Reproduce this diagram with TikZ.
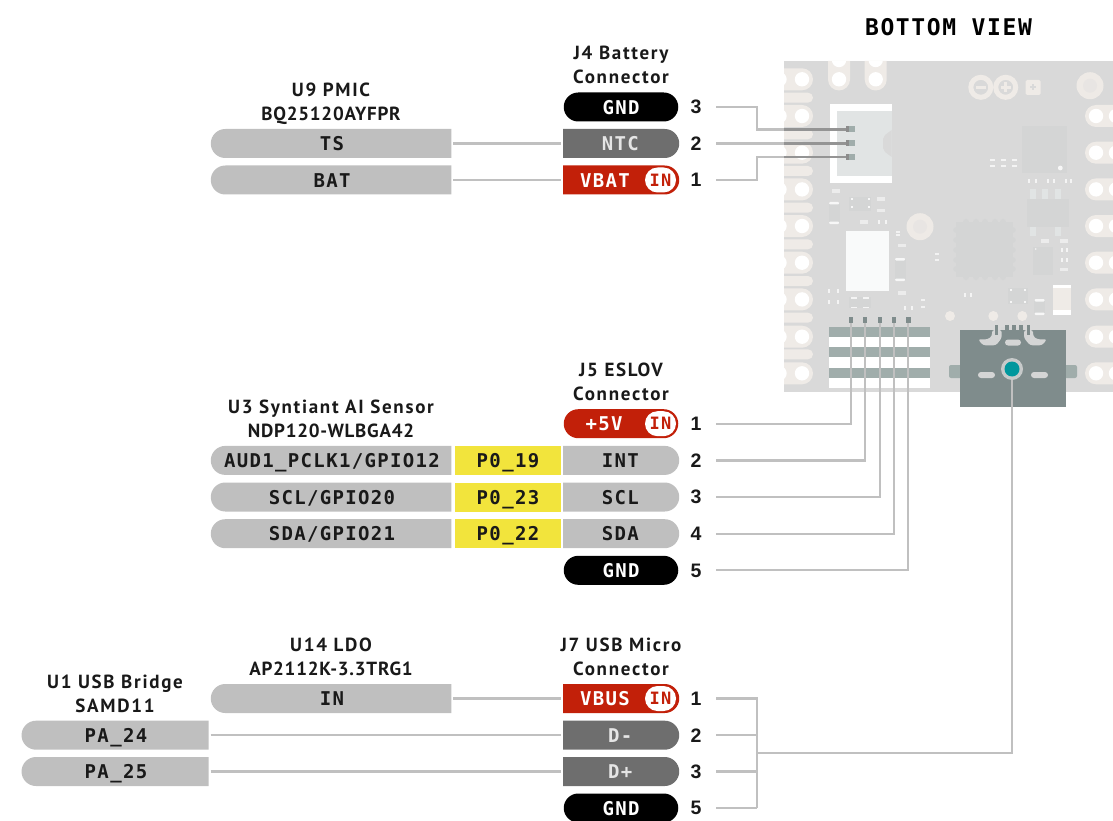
\documentclass[tikz,border=0pt]{standalone}
\usepackage{fontspec}
\usetikzlibrary{shapes.misc}
\newfontfamily\lblfont[LetterSpace=7]{DejaVu Sans Mono}
\newfontfamily\headfont[LetterSpace=9]{PT Sans}
\newfontfamily\headcaps[LetterSpace=4]{PT Sans}
\newfontfamily\numfont{Liberation Sans}
\definecolor{boardc}{HTML}{D9D9D9}
\definecolor{padc}{HTML}{EFEBE7}
\definecolor{compc}{HTML}{D4D5D5}
\definecolor{tintc}{HTML}{E1E4E4}
\definecolor{greenc}{HTML}{A0ADAB}
\definecolor{usbc}{HTML}{7F8C8C}
\definecolor{redc}{HTML}{C22009}
\definecolor{pingray}{HTML}{6E6E6E}
\definecolor{pillc}{HTML}{BFBFBF}
\definecolor{yelc}{HTML}{F2E43C}
\definecolor{linec}{HTML}{C0C0C0}
\definecolor{tealc}{HTML}{00979D}
\tikzset{
  lbl/.style={font=\lblfont\fontsize{19}{20}\bfseries\selectfont,inner sep=0pt,outer sep=0pt,text height=14.5pt,text depth=0pt,text=black!90},
  pinshape/.style={rounded rectangle,minimum width=114.5pt,minimum height=29pt,inner sep=0pt,outer sep=0pt,lbl},
  gndpin/.style={pinshape,fill=black,text=white},
  flatleft/.style={rounded rectangle west arc=none,minimum width=116pt,xshift=-0.75pt},
  graypin/.style={pinshape,flatleft,fill=pingray,text=white!90!black},
  redpin/.style={pinshape,flatleft,fill=redc},
  redround/.style={pinshape,fill=redc},
  lightpin/.style={pinshape,rounded rectangle east arc=none,fill=pillc},
  lightpinr/.style={pinshape,flatleft,fill=pillc},
  chipwide/.style={lightpin,minimum width=240.5pt,xshift=0.3pt},
  chipmid/.style={lightpin,minimum width=187pt,xshift=0.5pt},
  gpio/.style={rectangle,fill=yelc,minimum width=106.5pt,minimum height=29pt,lbl},
  redtext/.style={lbl,text=white},
  inpill/.style={rounded rectangle,fill=white,minimum width=31pt,minimum height=25pt,inner sep=0pt,outer sep=0pt,text=redc,font=\lblfont\fontsize{17}{18}\bfseries\selectfont,text height=12.5pt,text depth=0pt},
  pinnum/.style={minimum width=40pt,inner sep=0pt,outer sep=0pt,font=\numfont\fontsize{19.5}{20}\bfseries\selectfont,text height=13.8pt,text depth=0pt,text=black!90},
  head/.style={font=\headfont\fontsize{19}{24}\bfseries\selectfont,inner sep=0pt,align=center,text=black!90},
  conn/.style={draw=linec,line width=2.3pt},
  connd/.style={draw=black!42,line width=2.3pt},
  comp/.style={fill=compc,draw=none},
}
\begin{document}
\begin{tikzpicture}[x=1pt,y=-1pt]
\useasboundingbox (0,0) rectangle (1113,821);
% ---- board
\begin{scope}
\clip (784,61) -- (1086,61) arc[start angle=90,end angle=0,radius=27] -- (1113,392) -- (784,392) -- cycle;
\fill[boardc] (784,61) rectangle (1113,392);
\foreach \y in {79.3,116,152.7,189.4,226,262.7,299.4,336.7,373.3}{
  \fill[padc,rounded corners=11pt] (760,\y-11) rectangle (813,\y+11);
  \fill[white] (802,\y) circle[radius=7.2];
  \fill[white] (779.5,\y) circle[radius=7.2];
}
\foreach \y in {97.7,134.3,171,207.7,244.3,281,317.7,354.3}{
  \fill[padc,rounded corners=5pt] (770,\y-5) rectangle (813,\y+5);
}
\foreach \y in {116,152.7,189.4,226,262.7,299.4,336.7,373.3}{
  \fill[padc,rounded corners=11pt] (1085,\y-11) rectangle (1140,\y+11);
  \fill[white] (1096,\y) circle[radius=7.2];
  \fill[white] (1116,\y) circle[radius=7.2];
}
\foreach \x in {839,875.7}{
  \fill[padc,rounded corners=11pt] (\x-11,40) rectangle (\x+11,90.5);
  \fill[white] (\x,79.3) circle[radius=7.2];
  \fill[white] (\x,60) circle[radius=7.2];
}
\end{scope}
% logo
\draw[padc,line width=5pt] (980.8,87.3) circle[radius=10];
\draw[padc,line width=5pt] (1005.7,87.3) circle[radius=10];
\fill[padc] (975.5,85.8) rectangle (986,88.8);
\fill[padc] (1000.5,85.8) rectangle (1011,88.8);
\fill[padc] (1004.2,82) rectangle (1007.2,92.5);
\fill[padc,rounded corners=1.5pt] (1025.5,80) rectangle (1040.5,95);
\fill[boardc] (1032,84.5) rectangle (1034,90.5);
\fill[boardc] (1030,86.5) rectangle (1036,88.5);
% mounting circles
\fill[padc!95!boardc] (1090,85.7) circle[radius=13.5];
\fill[padc!70!boardc] (1090,85.7) circle[radius=7];
\fill[padc!95!boardc] (920,226.7) circle[radius=13.5];
\fill[padc!70!boardc] (920,226.7) circle[radius=7];
% J4 connector
\fill[white] (829.7,104) rectangle (891.7,182.7);
\fill[tintc] (837,111) rectangle (891.7,175.7);
\fill[boardc] (891.7,130) -- (885,135) -- (883,139) -- (883,148) -- (885,152) -- (891.7,157) -- cycle;
% chips and small components
\fill[comp] (1021.7,126) rectangle (1066.7,172.7);
\fill[white!80!boardc] (1060.3,168) circle[radius=2.4];
\foreach \x in {990,1001,1012}{
  \fill[white!70!boardc] (\x,159.5) rectangle ++(5,1.2);
  \fill[white!70!boardc] (\x,165.5) rectangle ++(5,1.2);
}
\foreach \x in {1029,1036,1048,1054,1066,1071}{
  \fill[white!70!boardc] (\x-.7,179) rectangle ++(1.5,4);
}
\foreach \x in {1033,1045,1058}{\fill[tintc] (\x-3,189) rectangle (\x+3,199);}
\foreach \x in {1033,1058}{\fill[tintc] (\x-3,226) rectangle (\x+3,236);}
\fill[comp] (1026.7,199) rectangle (1069,226.7);
% big chip
\foreach \y in {230,240,250,260,269}{
  \fill[compc] (956,\y) circle[radius=2.8];
  \fill[compc] (1013,\y) circle[radius=2.8];
}
\foreach \x in {966,976,985,995,1003}{
  \fill[compc] (\x,221.7) circle[radius=2.8];
  \fill[compc] (\x,277.3) circle[radius=2.8];
}
\fill[comp] (956,221.7) rectangle (1013,277.3);
\fill[white!80!tintc] (845.7,231) rectangle (889,291);
% small parts
\foreach \x/\y in {836/191,881/199,881/210.5,864/222,902/245.5,902/293,1045/241,1064/241,1064/269.5}{
  \fill[white!50!boardc] (\x-4,\y-1.8) rectangle (\x+4,\y+1.8);
}
\foreach \x/\y in {898/232,898/235,937/254,937/260,923/300,923/307}{
  \fill[white!65!boardc] (\x-2,\y-.6) rectangle (\x+2,\y+.6);
}
\fill[compc] (849,197) rectangle (871,211);
\foreach \x/\y in {852/199,869/199,852/207,869/207}{\fill[white!80!boardc] (\x-1.3,\y-1.3) rectangle (\x+1.3,\y+1.3);}
\foreach \x/\yA/\yB in {834/203/223,900/259/280,1039.5/300/314}{
  \fill[compc] (\x-5.5,\yA) rectangle (\x+5.5,\yB);
  \fill[white!80!boardc,rounded corners=1pt] (\x-5,\yA-1) rectangle (\x+5,\yA+1.5);
  \fill[white!80!boardc,rounded corners=1pt] (\x-5,\yB-1.5) rectangle (\x+5,\yB+1);
}
\fill[compc] (1033,247) rectangle (1053,275);
\fill[white!80!boardc] (1035.7,249) circle[radius=.9];
\fill[compc] (1008,288) rectangle (1028,304);
\foreach \x/\y in {1011/290,1025/290,1011/302,1025/302}{\fill[white!75!boardc] (\x-1,\y-1) rectangle (\x+1,\y+1);}
\fill[compc] (849,297) rectangle (870.7,308);
\foreach \x in {854,866}{\fill[white!70!boardc] (\x-3,297) rectangle (\x+3,298.5);\fill[white!70!boardc] (\x-3,306.5) rectangle (\x+3,308);}
\foreach \x/\y in {829/291,838/291,829/302,838/302,965/295,971/295,905/308,912/308,879/222,886/222,1062/250,1067/250,1062/260,1067/260}{
  \fill[white!70!boardc] (\x-.7,\y-2) rectangle (\x+.7,\y+2);
}
\fill[padc] (1052.7,285) rectangle (1071,315);
\fill[white] (1052.7,285) rectangle (1071,288);
\fill[white] (1052.7,310) rectangle (1071,315);
\foreach \x in {950,993.3,1022.3}{\fill[padc] (\x,316) circle[radius=5];}
% J5 connector
\fill[white] (828.7,327) rectangle (930,387.7);
\foreach \y in {327,347.3,367.7}{\fill[greenc] (828.7,\y) rectangle (930,\y+10);}
% USB
\fill[greenc,rounded corners=2pt] (949,365) rectangle (962,378);
\fill[greenc,rounded corners=2pt] (1064,365) rectangle (1077,378);
\fill[usbc] (960,330) rectangle (1066,407.3);
\fill[compc,rounded corners=2.5pt] (978,339.3) -- (988,339.3) -- (992,336) -- (992,330) -- (1001.7,330) -- (1001.7,338) -- (996,345.3) -- (983,345.3) -- cycle;
\fill[compc,rounded corners=2.5pt] (1047,339.3) -- (1037,339.3) -- (1033,336) -- (1033,330) -- (1024,330) -- (1024,338) -- (1030,345.3) -- (1042,345.3) -- cycle;
\foreach \x in {996.5,1028.5}{\fill[usbc] (\x-1.8,325) rectangle (\x+1.8,335);}
\fill[compc!60!boardc] (1001,327) rectangle (1024,330);
\foreach \x in {1007,1014,1021}{\fill[usbc] (\x-1.8,325) rectangle (\x+1.8,334);}
\fill[compc,rounded corners=3pt] (1005,339.5) rectangle (1021,345.5);
\fill[compc,rounded corners=3pt] (978,372) rectangle (995,378);
\fill[compc,rounded corners=3pt] (1031,372) rectangle (1048,378);
% ---- title
\node[lbl,font=\lblfont\fontsize{23}{24}\bfseries\selectfont,text=black,text height=16.5pt] (title) at (948.5,27) {BOTTOM VIEW};
% ---- headings
\node[head] (hJ4) at (621,65) {J4 Battery\\Connector};
\node[head] (hU9) at (331,103.5) {U9 PMIC\\{\headcaps BQ25120AYFPR}};
\node[head] (hJ5) at (621,382) {J5 ESLOV\\Connector};
\node[head] (hU3) at (331,419) {U3 Syntiant AI Sensor\\{\headcaps NDP120-WLBGA42}};
\node[head] (hJ7) at (621,657) {J7 USB Micro\\Connector};
\node[head] (hU14) at (331,657) {U14 LDO\\{\headcaps AP2112K-3.3TRG1}};
\node[head] (hU1) at (115,694) {U1 USB Bridge\\SAMD11};
% ---- J4
\node[gndpin] (j4gnd) at (621,107) {GND};
\node[graypin] (j4ntc) at (621,143.5) {NTC};
\node[redpin] (j4vbat) at (621,180) {};
\node[redtext] (j4vbatt) at (605,180) {VBAT};
\node[inpill] (j4in) at (660.5,180) {IN};
\node[pinnum] (n43) at (696,107) {3};
\node[pinnum] (n42) at (696,143.5) {2};
\node[pinnum] (n41) at (696,180) {1};
\node[chipwide] (ts) at (331.7,143.5) {TS};
\node[chipwide] (bat) at (331.7,180) {BAT};
% ---- J5
\node[redround] (j5v) at (621,423.7) {};
\node[redtext] (j5vt) at (604,423.7) {+5V};
\node[inpill] (j5in) at (660.5,423.7) {IN};
\node[lightpinr] (j5int) at (621,460.4) {INT};
\node[lightpinr] (j5scl) at (621,497) {SCL};
\node[lightpinr] (j5sda) at (621,533.7) {SDA};
\node[gndpin] (j5gnd) at (621,570.3) {GND};
\node[gpio] (g1) at (508,460.4) {P0\_19};
\node[gpio] (g2) at (508,497) {P0\_23};
\node[gpio] (g3) at (508,533.7) {P0\_22};
\node[chipwide] (u3a) at (331.7,460.4) {AUD1\_PCLK1/GPIO12};
\node[chipwide] (u3b) at (331.7,497) {SCL/GPIO20};
\node[chipwide] (u3c) at (331.7,533.7) {SDA/GPIO21};
\node[pinnum] (n51) at (696,423.7) {1};
\node[pinnum] (n52) at (696,460.4) {2};
\node[pinnum] (n53) at (696,497) {3};
\node[pinnum] (n54) at (696,533.7) {4};
\node[pinnum] (n55) at (696,570.3) {5};
% ---- J7
\node[redpin] (j7v) at (621,698.5) {};
\node[redtext] (j7vt) at (605,698.5) {VBUS};
\node[inpill] (j7in) at (660.5,698.5) {IN};
\node[graypin] (j7m) at (621,735.2) {D-};
\node[graypin] (j7p) at (621,771.5) {D+};
\node[gndpin] (j7gnd) at (621,808) {GND};
\node[chipwide] (u14) at (331.7,698.5) {IN};
\node[chipmid] (pa24) at (115.5,735.2) {PA\_24};
\node[chipmid] (pa25) at (115.5,771.5) {PA\_25};
\node[pinnum] (n71) at (696,698.5) {1};
\node[pinnum] (n72) at (696,735.2) {2};
\node[pinnum] (n73) at (696,771.5) {3};
\node[pinnum] (n75) at (696,808) {5};
% ---- coordinates of the connector ends
\coordinate (t3) at (846,129.5);
\coordinate (t2) at (846,143.5);
\coordinate (t1) at (846,157);
\coordinate (k3) at (757,129.5);
\coordinate (k1) at (757,157);
\coordinate (e3) at (784,129.5);
\coordinate (e2) at (784,143.5);
\coordinate (e1) at (784,157);
\coordinate (c1) at (851,320);
\coordinate (c2) at (865,320);
\coordinate (c3) at (880,320);
\coordinate (c4) at (894,320);
\coordinate (c5) at (908.3,320);
\coordinate (busM) at (757,753);
\coordinate (busB) at (757,808);
\coordinate (busK) at (757,735.2);
\coordinate (busL) at (757,771.5);
\coordinate (usbend) at (1012,378);
% ---- connectors
\draw[conn] ([xshift=2pt]ts.east) -- ([xshift=-2pt]j4ntc.west);
\draw[conn] ([xshift=2pt]bat.east) -- ([xshift=-2pt]j4vbat.west);
\draw[conn] ([xshift=2pt]u14.east) -- ([xshift=-2pt]j7v.west);
\draw[conn] ([xshift=2pt]pa24.east) -- ([xshift=-2pt]j7m.west);
\draw[conn] ([xshift=2pt]pa25.east) -- ([xshift=-2pt]j7p.west);
\draw[conn] (n43.east) -| (k3) -- (e3);
\draw[conn] (n42.east) -- (e2);
\draw[conn] (n41.east) -| (k1) -- (e1);
\draw[connd] (e3) -- (t3);
\draw[connd] (e2) -- (t2);
\draw[connd] (e1) -- (t1);
\foreach \i in {1,2,3}{\fill[greenc] (t\i)++(0,-3) rectangle ++(9,6);\fill[black!45] (t\i)++(0,-3) rectangle ++(2.5,6);}
\draw[conn] (n51.east) -| (c1);
\draw[conn] (n52.east) -| (c2);
\draw[conn] (n53.east) -| (c3);
\draw[conn] (n54.east) -| (c4);
\draw[conn] (n55.east) -| (c5);
\foreach \i in {1,2,3,4,5}{\fill[usbc] (c\i)++(-2.2,-3) rectangle ++(4.4,6);}
\draw[conn] (n71.east) -| (busB);
\draw[conn] (n72.east) -- (busK);
\draw[conn] (n73.east) -- (busL);
\draw[conn] (n75.east) -- (busB);
\draw[conn] (busM) -| (usbend);
% USB centre
\fill[compc!85!usbc] (1012,369) circle[radius=11];
\fill[tealc] (1012,369) circle[radius=7.5];
\end{tikzpicture}
\end{document}
